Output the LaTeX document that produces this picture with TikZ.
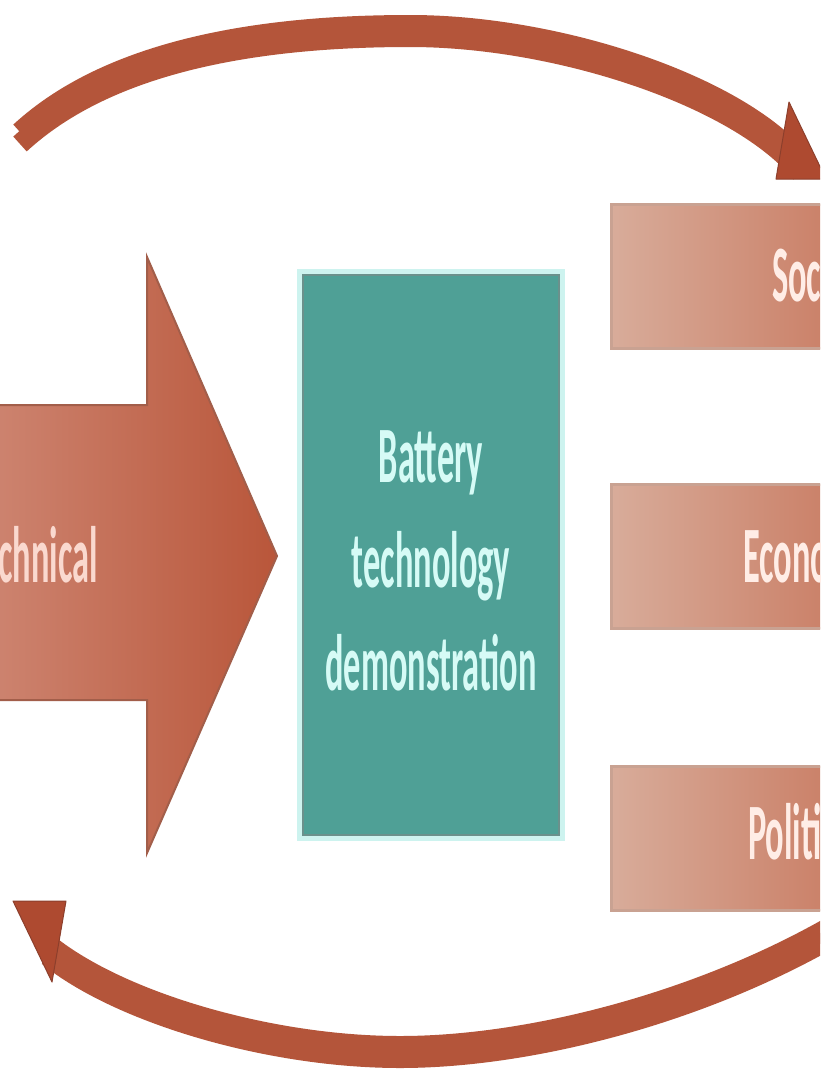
\documentclass[tikz,border=0pt]{standalone}
\usepackage{fontspec}
\setmainfont{Carlito}
\definecolor{arcc}{HTML}{B4553A}
\definecolor{headc}{HTML}{AE4A30}
\definecolor{headline}{HTML}{8C3F2C}
\definecolor{arrL}{HTML}{CD8470}
\definecolor{arrR}{HTML}{B9563A}
\definecolor{arrline}{HTML}{A25E4A}
\definecolor{techtext}{HTML}{FAD9CF}
\definecolor{boxL}{HTML}{D8AC9A}
\definecolor{boxR}{HTML}{C97C63}
\definecolor{boxline}{HTML}{C9A292}
\definecolor{boxtext}{HTML}{FFEDE6}
\definecolor{tealc}{HTML}{4FA096}
\definecolor{tealedge}{HTML}{6B918C}
\definecolor{tealglow}{HTML}{CDF3EF}
\definecolor{tealtext}{HTML}{D6FBF6}
\begin{document}
\begin{tikzpicture}[x=1pt,y=-1pt,
  bigfont/.style={font=\fontsize{80}{104}\selectfont\bfseries, xscale=0.43, inner sep=0pt},
  arcband/.style={draw=arcc, line width=20pt},
  sidebox/.style={draw=boxline, line width=3pt, left color=boxL, right color=boxR,
                  anchor=north west, minimum width=240pt, minimum height=144pt, inner sep=0pt},
  head/.style={fill=headc, draw=headline, line width=1pt, line join=round}
]
\useasboundingbox (0,0) rectangle (820,1069);
\fill[white] (0,0) rectangle (820,1069);
\clip (0,0) rectangle (820,1069);

% top cycle arc
\coordinate (tA) at (20,138);
\coordinate (tT) at (410,31);
\coordinate (tB) at (801,167);
\foreach \s in {-6,6} {
  \draw[arcband] ([yshift=\s pt]tA) .. controls ([yshift=\s pt]110,55) and ([yshift=\s pt]260,31) .. ([yshift=\s pt]tT)
     .. controls ([yshift=\s pt]560,31) and ([yshift=\s pt]740,92) .. ([yshift=\s pt]tB);
}
\filldraw[head] (789,102) -- (776,179) -- (826,179) -- cycle;

% bottom cycle arc
\coordinate (bE) at (835,930);
\coordinate (bM) at (400,1052);
\coordinate (bF) at (48,950);
\foreach \s in {-6,6} {
  \draw[arcband] ([yshift=\s pt]bE) .. controls ([yshift=\s pt]700,1008) and ([yshift=\s pt]530,1052) .. ([yshift=\s pt]bM)
     .. controls ([yshift=\s pt]270,1052) and ([yshift=\s pt]120,1008) .. ([yshift=\s pt]bF);
}
\filldraw[head] (13,901) -- (66,901) -- (52,982) -- cycle;

% big left arrow
\draw[left color=arrL, right color=arrR, draw=arrline, line width=2pt, line join=miter]
  (-10,405) -- (147,405) -- (147,257) -- (277,556) -- (147,853) -- (147,700) -- (-10,700) -- cycle;
\node[bigfont, text=techtext, anchor=base east] (tech) at (98,582) {Technical};

% central box
\draw[tealglow, line width=6pt] (300,272) rectangle (562,838);
\node[fill=tealc, draw=tealedge, line width=2pt, minimum width=256pt, minimum height=560pt, inner sep=0pt] (demo) at (431,555) {};
\node[bigfont, text=tealtext, anchor=base] (l1) at (431,482) {Battery};
\node[bigfont, text=tealtext, anchor=base] (l2) at (431,587) {technology};
\node[bigfont, text=tealtext, anchor=base] (l3) at (431,690) {demonstration};

% right boxes
\node[sidebox] (soc) at (610,203) {};
\node[sidebox] (eco) at (610,483) {};
\node[sidebox] (pol) at (610,765) {};
\node[bigfont, text=boxtext, anchor=base west] (soct) at (772,301) {Social};
\node[bigfont, text=boxtext, anchor=base west] (ecot) at (743,582) {Economic};
\node[bigfont, text=boxtext, anchor=base west] (polt) at (748,859) {Political};
\end{tikzpicture}
\end{document}
